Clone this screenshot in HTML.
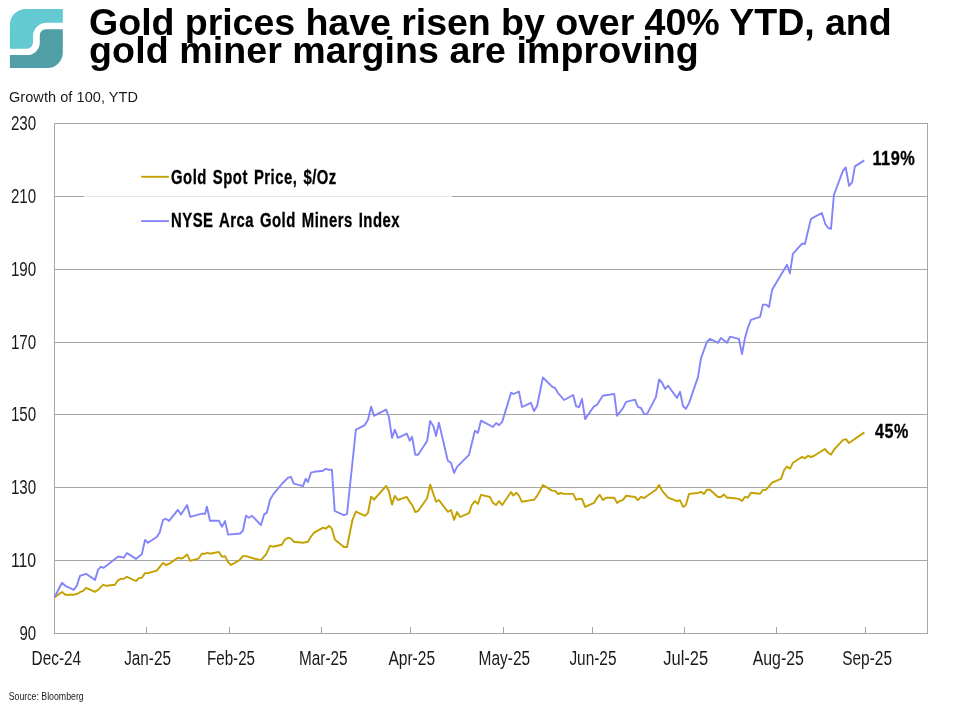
<!DOCTYPE html>
<html lang="en"><head><meta charset="utf-8"><title>Gold prices have risen by over 40% YTD</title>
<style>
html,body{margin:0;padding:0;background:#fff;}
body{width:955px;height:709px;overflow:hidden;position:relative;font-family:"Liberation Sans",sans-serif;}
svg{position:absolute;left:0;top:0;display:block}
text{font-family:"Liberation Sans",sans-serif;}
.ax{font-size:19.7px;fill:#1a1a1a;}
.b{font-weight:bold;font-size:19.5px;fill:#000;letter-spacing:0.65px;word-spacing:1.8px;stroke:#000;stroke-width:0.3px}
</style></head><body>
<svg width="955" height="709" viewBox="0 0 955 709">
<rect width="955" height="709" fill="#fff"/>
<!-- logo -->
<path d="M9.9 48.7 L9.9 24.9 A16 16 0 0 1 25.9 8.9 L62.8 8.9 L62.8 22.8 L46.5 22.8 A13.5 13.5 0 0 0 33 36.3 L33 42.5 A6.2 6.2 0 0 1 26.8 48.7 Z" fill="#62cad0"/>
<path d="M62.8 29.2 L45.8 29.2 A6 6 0 0 0 39.8 35.2 L39.8 42.5 A12.6 12.6 0 0 1 27.2 55.1 L9.9 55.1 L9.9 68 L47.3 68 A15.5 15.5 0 0 0 62.8 52.5 Z" fill="#509ea6"/>
<!-- title -->
<text x="89.1" y="34.7" font-size="37.6" font-weight="bold" fill="#000" textLength="802.6">Gold prices have risen by over 40% YTD, and</text>
<text x="89.1" y="62.8" font-size="37.6" font-weight="bold" fill="#000" textLength="609.6">gold miner margins are improving</text>
<text x="9.0" y="101.8" font-size="14.5" fill="#1a1a1a" textLength="129">Growth of 100, YTD</text>

<g stroke="#a6a6a6" stroke-width="1" fill="none" shape-rendering="crispEdges">
<line x1="54.5" y1="560.5" x2="927.5" y2="560.5"/>
<line x1="54.5" y1="487.5" x2="927.5" y2="487.5"/>
<line x1="54.5" y1="414.5" x2="927.5" y2="414.5"/>
<line x1="54.5" y1="342.5" x2="927.5" y2="342.5"/>
<line x1="54.5" y1="269.5" x2="927.5" y2="269.5"/>
<line x1="54.5" y1="196.5" x2="927.5" y2="196.5"/>
<rect x="54.5" y="123.5" width="873.0" height="510.0"/>
<line x1="146.5" y1="626.5" x2="146.5" y2="633.5"/>
<line x1="229.5" y1="626.5" x2="229.5" y2="633.5"/>
<line x1="321.5" y1="626.5" x2="321.5" y2="633.5"/>
<line x1="410.5" y1="626.5" x2="410.5" y2="633.5"/>
<line x1="503.5" y1="626.5" x2="503.5" y2="633.5"/>
<line x1="592.5" y1="626.5" x2="592.5" y2="633.5"/>
<line x1="684.5" y1="626.5" x2="684.5" y2="633.5"/>
<line x1="776.5" y1="626.5" x2="776.5" y2="633.5"/>
<line x1="865.5" y1="626.5" x2="865.5" y2="633.5"/>
</g>
<rect x="84" y="150" width="368" height="95" fill="#fff" fill-opacity="0.72"/>
<text class="ax" x="19.5" y="640.0" textLength="16.7" lengthAdjust="spacingAndGlyphs">90</text>
<text class="ax" x="10.9" y="567.1" textLength="25.3" lengthAdjust="spacingAndGlyphs">110</text>
<text class="ax" x="10.9" y="494.3" textLength="25.3" lengthAdjust="spacingAndGlyphs">130</text>
<text class="ax" x="10.9" y="421.4" textLength="25.3" lengthAdjust="spacingAndGlyphs">150</text>
<text class="ax" x="10.9" y="348.6" textLength="25.3" lengthAdjust="spacingAndGlyphs">170</text>
<text class="ax" x="10.9" y="275.7" textLength="25.3" lengthAdjust="spacingAndGlyphs">190</text>
<text class="ax" x="10.9" y="202.9" textLength="25.3" lengthAdjust="spacingAndGlyphs">210</text>
<text class="ax" x="10.9" y="130.0" textLength="25.3" lengthAdjust="spacingAndGlyphs">230</text>
<text class="ax" x="31.6" y="664.9" textLength="49.5" lengthAdjust="spacingAndGlyphs">Dec-24</text>
<text class="ax" x="124.2" y="664.9" textLength="46.8" lengthAdjust="spacingAndGlyphs">Jan-25</text>
<text class="ax" x="207.0" y="664.9" textLength="48.0" lengthAdjust="spacingAndGlyphs">Feb-25</text>
<text class="ax" x="299.0" y="664.9" textLength="48.6" lengthAdjust="spacingAndGlyphs">Mar-25</text>
<text class="ax" x="388.4" y="664.9" textLength="46.7" lengthAdjust="spacingAndGlyphs">Apr-25</text>
<text class="ax" x="478.5" y="664.9" textLength="51.6" lengthAdjust="spacingAndGlyphs">May-25</text>
<text class="ax" x="569.4" y="664.9" textLength="47.1" lengthAdjust="spacingAndGlyphs">Jun-25</text>
<text class="ax" x="663.2" y="664.9" textLength="45.0" lengthAdjust="spacingAndGlyphs">Jul-25</text>
<text class="ax" x="752.7" y="664.9" textLength="51.2" lengthAdjust="spacingAndGlyphs">Aug-25</text>
<text class="ax" x="842.2" y="664.9" textLength="49.9" lengthAdjust="spacingAndGlyphs">Sep-25</text>
<polyline points="54.5,597.3 62.0,591.9 65.3,594.7 74.0,594.7 76.9,594.0 80.0,592.2 83.2,590.9 86.0,587.9 95.0,591.9 98.1,589.8 103.0,584.8 106.5,585.8 115.0,584.8 117.9,580.3 120.7,578.9 123.8,578.7 127.0,576.8 135.9,581.0 139.1,578.0 141.9,577.7 145.0,573.1 148.0,573.1 156.7,570.7 163.1,562.9 165.9,565.0 169.0,563.9 177.9,557.7 181.0,558.7 183.5,557.7 187.1,554.4 190.2,560.8 198.4,558.7 201.9,553.7 205.2,553.7 206.9,552.7 210.0,553.7 218.9,551.9 222.0,556.8 225.0,556.1 228.1,562.2 230.9,565.0 239.4,560.1 242.9,556.1 246.0,556.1 252.1,558.0 261.0,560.1 266.2,554.1 270.0,545.9 273.0,546.7 281.8,544.8 284.9,539.6 288.1,537.7 291.0,538.6 293.8,541.7 303.0,542.8 307.9,541.7 311.0,536.5 314.2,532.6 323.0,527.7 325.8,528.7 329.1,525.8 331.9,528.7 335.0,539.7 343.9,547.0 347.0,547.0 352.4,520.2 355.9,511.7 365.1,515.9 368.0,512.8 371.1,496.6 374.0,499.7 386.1,486.0 388.9,491.2 392.0,504.6 394.8,495.9 397.9,500.0 406.8,496.9 409.7,501.8 412.1,504.9 415.3,512.0 418.1,511.0 427.1,498.3 430.2,484.6 436.1,501.8 438.9,500.0 447.8,511.8 451.0,510.0 454.1,519.9 457.0,512.1 460.1,517.0 469.0,513.1 471.8,505.0 474.9,501.1 477.9,503.9 481.0,494.8 489.9,497.0 493.0,502.9 496.1,505.0 499.1,501.1 502.2,505.0 511.1,492.0 513.2,495.6 516.3,492.7 518.9,495.6 522.0,501.8 530.9,500.1 534.0,499.8 537.1,495.8 540.4,490.2 542.9,485.0 552.1,490.6 555.2,490.9 558.0,494.0 561.1,493.0 564.1,493.9 573.2,493.9 576.1,499.8 579.2,498.7 582.0,498.9 585.1,506.9 594.0,502.9 596.9,498.0 599.7,494.8 602.9,500.1 606.0,497.7 614.2,497.7 617.1,502.9 620.2,500.8 623.0,499.8 626.1,495.8 635.0,497.0 637.9,500.1 641.0,496.8 644.2,498.0 655.9,489.8 659.1,485.0 662.2,490.9 668.0,497.7 677.0,501.1 680.0,500.1 683.1,506.9 685.9,505.0 689.0,493.9 697.9,493.0 701.0,491.9 704.0,493.9 706.8,489.7 709.9,489.7 718.0,497.0 720.9,497.0 724.0,494.6 726.9,497.7 730.0,497.7 738.9,498.9 742.0,501.0 745.0,496.8 747.8,497.7 750.9,492.8 760.1,493.8 762.9,490.0 766.0,489.7 769.0,486.4 772.1,482.6 781.0,478.9 784.1,470.2 786.9,466.6 790.0,468.8 793.0,462.7 801.8,457.0 804.9,458.2 808.1,455.8 811.0,457.0 813.8,456.0 824.8,449.0 827.9,452.5 831.0,454.6 834.0,449.7 842.9,440.2 846.0,439.1 848.9,443.0 864.4,432.4" fill="none" stroke="#c4a000" stroke-width="1.9" stroke-linejoin="round" stroke-linecap="butt"/>
<polyline points="54.5,597.3 62.0,582.7 65.3,585.8 74.0,589.8 76.9,585.5 80.0,575.9 86.0,573.8 95.0,579.9 98.1,569.7 100.9,566.7 103.4,567.9 117.9,556.8 120.7,556.8 123.8,557.7 127.0,553.0 135.9,558.9 141.9,554.0 145.0,540.0 148.0,542.8 156.7,537.0 159.6,532.8 163.1,519.8 165.9,518.8 169.0,520.9 177.9,509.9 181.0,514.6 187.1,505.0 190.2,516.8 201.9,513.7 205.2,513.7 206.9,506.6 210.0,520.8 218.9,520.8 222.0,526.7 225.0,521.1 228.1,534.6 240.1,533.5 242.9,530.7 246.0,515.8 249.0,517.7 252.1,515.8 261.0,525.0 264.1,514.4 266.9,512.6 270.0,500.0 273.0,494.6 281.8,484.0 288.1,477.7 291.0,477.0 293.8,483.6 303.0,486.2 305.8,478.7 307.9,481.9 311.0,472.7 314.2,471.8 323.0,470.7 325.8,468.8 328.4,469.7 331.9,469.7 334.7,511.0 343.9,515.2 347.0,514.1 355.9,429.7 364.4,425.4 368.0,419.8 371.1,406.6 374.0,415.8 386.1,409.6 388.9,417.0 392.0,437.9 394.8,429.7 397.9,437.9 406.8,433.6 409.7,440.7 412.1,436.8 415.3,454.8 418.1,454.8 427.1,441.0 430.2,420.9 433.4,426.2 436.1,436.0 438.9,422.6 447.8,460.7 451.0,462.8 454.1,472.9 457.0,466.8 469.0,454.8 474.9,430.8 477.9,432.9 481.0,420.6 493.0,427.0 496.1,423.0 499.1,425.1 502.2,421.9 511.1,392.6 513.5,394.0 518.9,391.6 522.0,407.0 530.9,402.8 534.0,411.0 537.1,406.0 542.9,377.5 552.1,386.7 555.2,388.1 558.0,393.0 564.1,400.0 573.2,395.0 576.1,406.3 579.2,407.0 582.0,398.8 585.1,419.1 594.0,406.3 596.9,404.9 602.8,395.7 614.2,393.9 617.1,415.9 623.0,408.0 626.1,401.8 635.0,399.7 637.9,406.8 641.0,408.0 644.2,414.1 647.0,414.1 655.9,397.1 659.1,379.5 662.2,383.0 665.1,388.9 668.0,385.8 677.0,397.9 680.0,391.8 683.1,406.3 685.9,408.9 689.0,403.1 697.9,377.4 701.0,358.3 706.8,342.1 709.9,338.8 718.0,342.8 720.9,337.9 726.9,342.8 730.0,336.7 738.9,338.8 742.0,354.1 745.0,337.9 747.8,328.0 750.9,319.8 760.1,316.9 762.9,304.6 766.0,304.6 769.0,307.0 772.1,289.8 787.0,264.8 789.9,273.3 792.9,253.8 802.0,243.7 805.0,243.7 810.9,218.9 814.1,217.2 821.9,213.0 825.3,224.0 828.0,227.8 831.0,228.9 833.9,195.0 843.0,170.7 845.8,167.5 849.0,185.9 852.1,182.3 854.9,166.4 864.3,160.4" fill="none" stroke="#8484fa" stroke-width="1.9" stroke-linejoin="round" stroke-linecap="butt"/>
<line x1="141.2" y1="176.8" x2="168.9" y2="176.8" stroke="#c4a000" stroke-width="1.9"/>
<line x1="141.2" y1="221.1" x2="168.9" y2="221.1" stroke="#8484fa" stroke-width="1.9"/>
<text class="b" x="171" y="183.5" textLength="165.8" lengthAdjust="spacingAndGlyphs">Gold Spot Price, $/Oz</text>
<text class="b" x="171" y="226.8" textLength="229" lengthAdjust="spacingAndGlyphs">NYSE Arca Gold Miners Index</text>
<text class="b" x="872.4" y="164.5" textLength="43" lengthAdjust="spacingAndGlyphs">119%</text>
<text class="b" x="875" y="437.7" textLength="33.9" lengthAdjust="spacingAndGlyphs">45%</text>
<text x="8.7" y="700" font-size="11.7" fill="#222" textLength="75" lengthAdjust="spacingAndGlyphs">Source: Bloomberg</text>
</svg></body></html>
